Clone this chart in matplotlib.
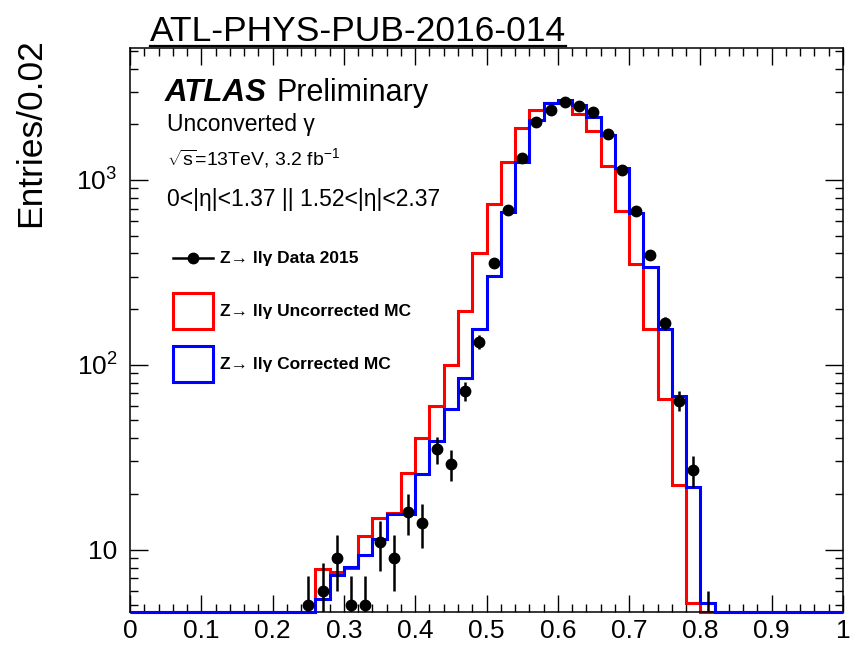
import numpy as np
import matplotlib
matplotlib.use('Agg')
import matplotlib.pyplot as plt
from matplotlib.ticker import MultipleLocator, LogLocator, FixedLocator, FixedFormatter, NullFormatter
from matplotlib.lines import Line2D
from matplotlib.patches import Rectangle
from matplotlib.legend_handler import HandlerLine2D

plt.rcParams['font.family'] = ['Liberation Sans', 'DejaVu Sans']
plt.rcParams['mathtext.fontset'] = 'custom'
plt.rcParams['mathtext.rm'] = 'Liberation Sans'
plt.rcParams['mathtext.it'] = 'Liberation Sans:italic'
plt.rcParams['mathtext.bf'] = 'Liberation Sans:bold'

# Histogram binning: 50 bins of 0.02 between 0 and 1
bin_edges = np.round(np.arange(0, 1.0001, 0.02), 2)

# Z -> ll gamma data 2015 (entries per bin)
data_counts = [0, 0, 0, 0, 0, 0, 0, 0, 0, 0, 0, 0,
               5, 6, 9, 5, 5, 11, 9, 16, 14, 35, 29, 72, 133, 357, 685, 1320,
               2050, 2390, 2640, 2515, 2330, 1775, 1125, 675, 392, 168, 64, 27, 4,
               0, 0, 0, 0, 0, 0, 0, 0, 0]

# uncorrected MC (red)
mc_uncorrected = [0, 0, 0, 0, 0, 0, 0, 0, 0, 0, 0, 0, 0,
                  7.9, 7.6, 8.0, 11.8, 14.8, 15.7, 26, 40, 60, 100, 196, 400, 741,
                  1250, 1900, 2390, 2600, 2680, 2270, 1850, 1190, 680, 350, 156,
                  65.5, 22.5, 5.15,
                  0, 0, 0, 0, 0, 0, 0, 0, 0, 0]

# corrected MC (blue)
mc_corrected = [0, 0, 0, 0, 0, 0, 0, 0, 0, 0, 0, 0, 0,
                5.4, 7.3, 8.1, 9.4, 11.4, 15.5, 15.5, 25.7, 38.5, 57.6, 85, 157, 302,
                668, 1253, 2110, 2600, 2705, 2540, 2197, 1750, 1157, 666, 336, 157,
                67.4, 21.8, 5.15,
                0, 0, 0, 0, 0, 0, 0, 0, 0]

x_ticks = [0, 0.1, 0.2, 0.3, 0.4, 0.5, 0.6, 0.7, 0.8, 0.9, 1.0]
x_tick_labels = ['0', '0.1', '0.2', '0.3', '0.4', '0.5', '0.6', '0.7', '0.8', '0.9', '1']
y_ticks = [10, 100, 1000]
y_tick_labels = ['10', r'$10^{2}$', r'$10^{3}$']
legend_labels = ['Z\u2192 ll\u03b3 Data 2015',
                 'Z\u2192 ll\u03b3 Uncorrected MC',
                 'Z\u2192 ll\u03b3 Corrected MC']

ymin, ymax = 4.6, 5170

W, H = 859, 661
fig = plt.figure(figsize=(W / 100, H / 100), dpi=100, facecolor='w')
ax = fig.add_axes([130 / W, 1 - 612 / H, 713 / W, 564 / H])

data_counts = np.array(data_counts, dtype=float)
mc_uncorrected = np.array(mc_uncorrected, dtype=float)
mc_corrected = np.array(mc_corrected, dtype=float)
centers = 0.5 * (bin_edges[:-1] + bin_edges[1:])

# empty bins sit on the bottom edge, like ROOT draws them
ax.stairs(np.maximum(mc_uncorrected, ymin), bin_edges, baseline=None,
          color='red', lw=2.2, clip_on=False, zorder=2)
ax.stairs(np.maximum(mc_corrected, ymin), bin_edges, baseline=None,
          color='blue', lw=2.2, clip_on=False, zorder=3)

m = data_counts > 0
ax.errorbar(centers[m], data_counts[m], yerr=np.sqrt(data_counts[m]), fmt='o',
            color='black', ms=7.5, elinewidth=1.8, capsize=0, zorder=4)

ax.set_yscale('log')
ax.set_xlim(0, 1)
ax.set_ylim(ymin, ymax)

ax.xaxis.set_major_locator(FixedLocator(x_ticks))
ax.xaxis.set_major_formatter(FixedFormatter(x_tick_labels))
ax.xaxis.set_minor_locator(MultipleLocator(0.02))
ax.yaxis.set_major_locator(FixedLocator(y_ticks))
ax.yaxis.set_major_formatter(FixedFormatter(y_tick_labels))
ax.yaxis.set_minor_locator(LogLocator(base=10, subs=np.arange(2, 10)))
ax.yaxis.set_minor_formatter(NullFormatter())

ax.tick_params(which='both', direction='in', top=True, right=True, width=1, labelsize=19)
ax.tick_params(axis='x', which='major', length=12.5, pad=5)
ax.tick_params(axis='y', which='major', length=13, pad=9)
ax.tick_params(which='minor', length=6)
for s in ax.spines.values():
    s.set_linewidth(1.1)

# ATLAS labels
ax.text(0.049, 0.906, 'ATLAS', transform=ax.transAxes, fontsize=22.5,
        fontweight='bold', fontstyle='italic', va='baseline')
ax.text(0.206, 0.906, 'Preliminary', transform=ax.transAxes, fontsize=22, va='baseline')
ax.text(0.052, 0.853, 'Unconverted \u03b3', transform=ax.transAxes, fontsize=16.5, va='baseline')
ax.text(0.052, 0.793, r'$\sqrt{\mathrm{s}}$=13TeV, 3.2 fb$^{-1}$', transform=ax.transAxes,
        fontsize=14, va='baseline')
ax.text(0.052, 0.72, '0<|\u03b7|<1.37 || 1.52<|\u03b7|<2.37', transform=ax.transAxes,
        fontsize=16.5, va='baseline')


class CenteredLine(HandlerLine2D):
    # drop the marker line to the middle of the box-sized legend row
    def create_artists(self, legend, orig_handle, xdescent, ydescent, width, height,
                       fontsize, trans):
        arts = super().create_artists(legend, orig_handle, xdescent, ydescent,
                                      width, height, fontsize, trans)
        for a in arts:
            a.set_ydata(np.asarray(a.get_ydata()) - 0.5 * ydescent)
        return arts


handles = [Line2D([], [], color='black', marker='o', ms=7.5, lw=1.8),
           Rectangle((0, 0), 1, 1, fc='white', ec='red', lw=2.2),
           Rectangle((0, 0), 1, 1, fc='white', ec='blue', lw=2.2)]
ax.legend(handles, legend_labels, loc='upper left', bbox_to_anchor=(0.0603, 0.6596),
          frameon=False, prop={'weight': 'bold', 'size': 12.5},
          handlelength=2.3, handleheight=2.8, labelspacing=0.98,
          handletextpad=0.4, borderpad=0, borderaxespad=0,
          handler_map={Line2D: CenteredLine()})

fig.text(31 / W, 1 - 38 / H, 'Entries/0.02', rotation=90, va='top', ha='center', fontsize=25.5)

title = fig.text(150 / W, 1 - 41 / H, 'ATL-PHYS-PUB-2016-014', fontsize=25.5,
                 ha='left', va='baseline')
fig.canvas.draw()
bb = title.get_window_extent(fig.canvas.get_renderer())
fig.add_artist(Line2D([bb.x0 / W, bb.x1 / W], [1 - 45.5 / H, 1 - 45.5 / H],
                      transform=fig.transFigure, color='black', lw=1.6))

fig.savefig('out.png', dpi=100)
